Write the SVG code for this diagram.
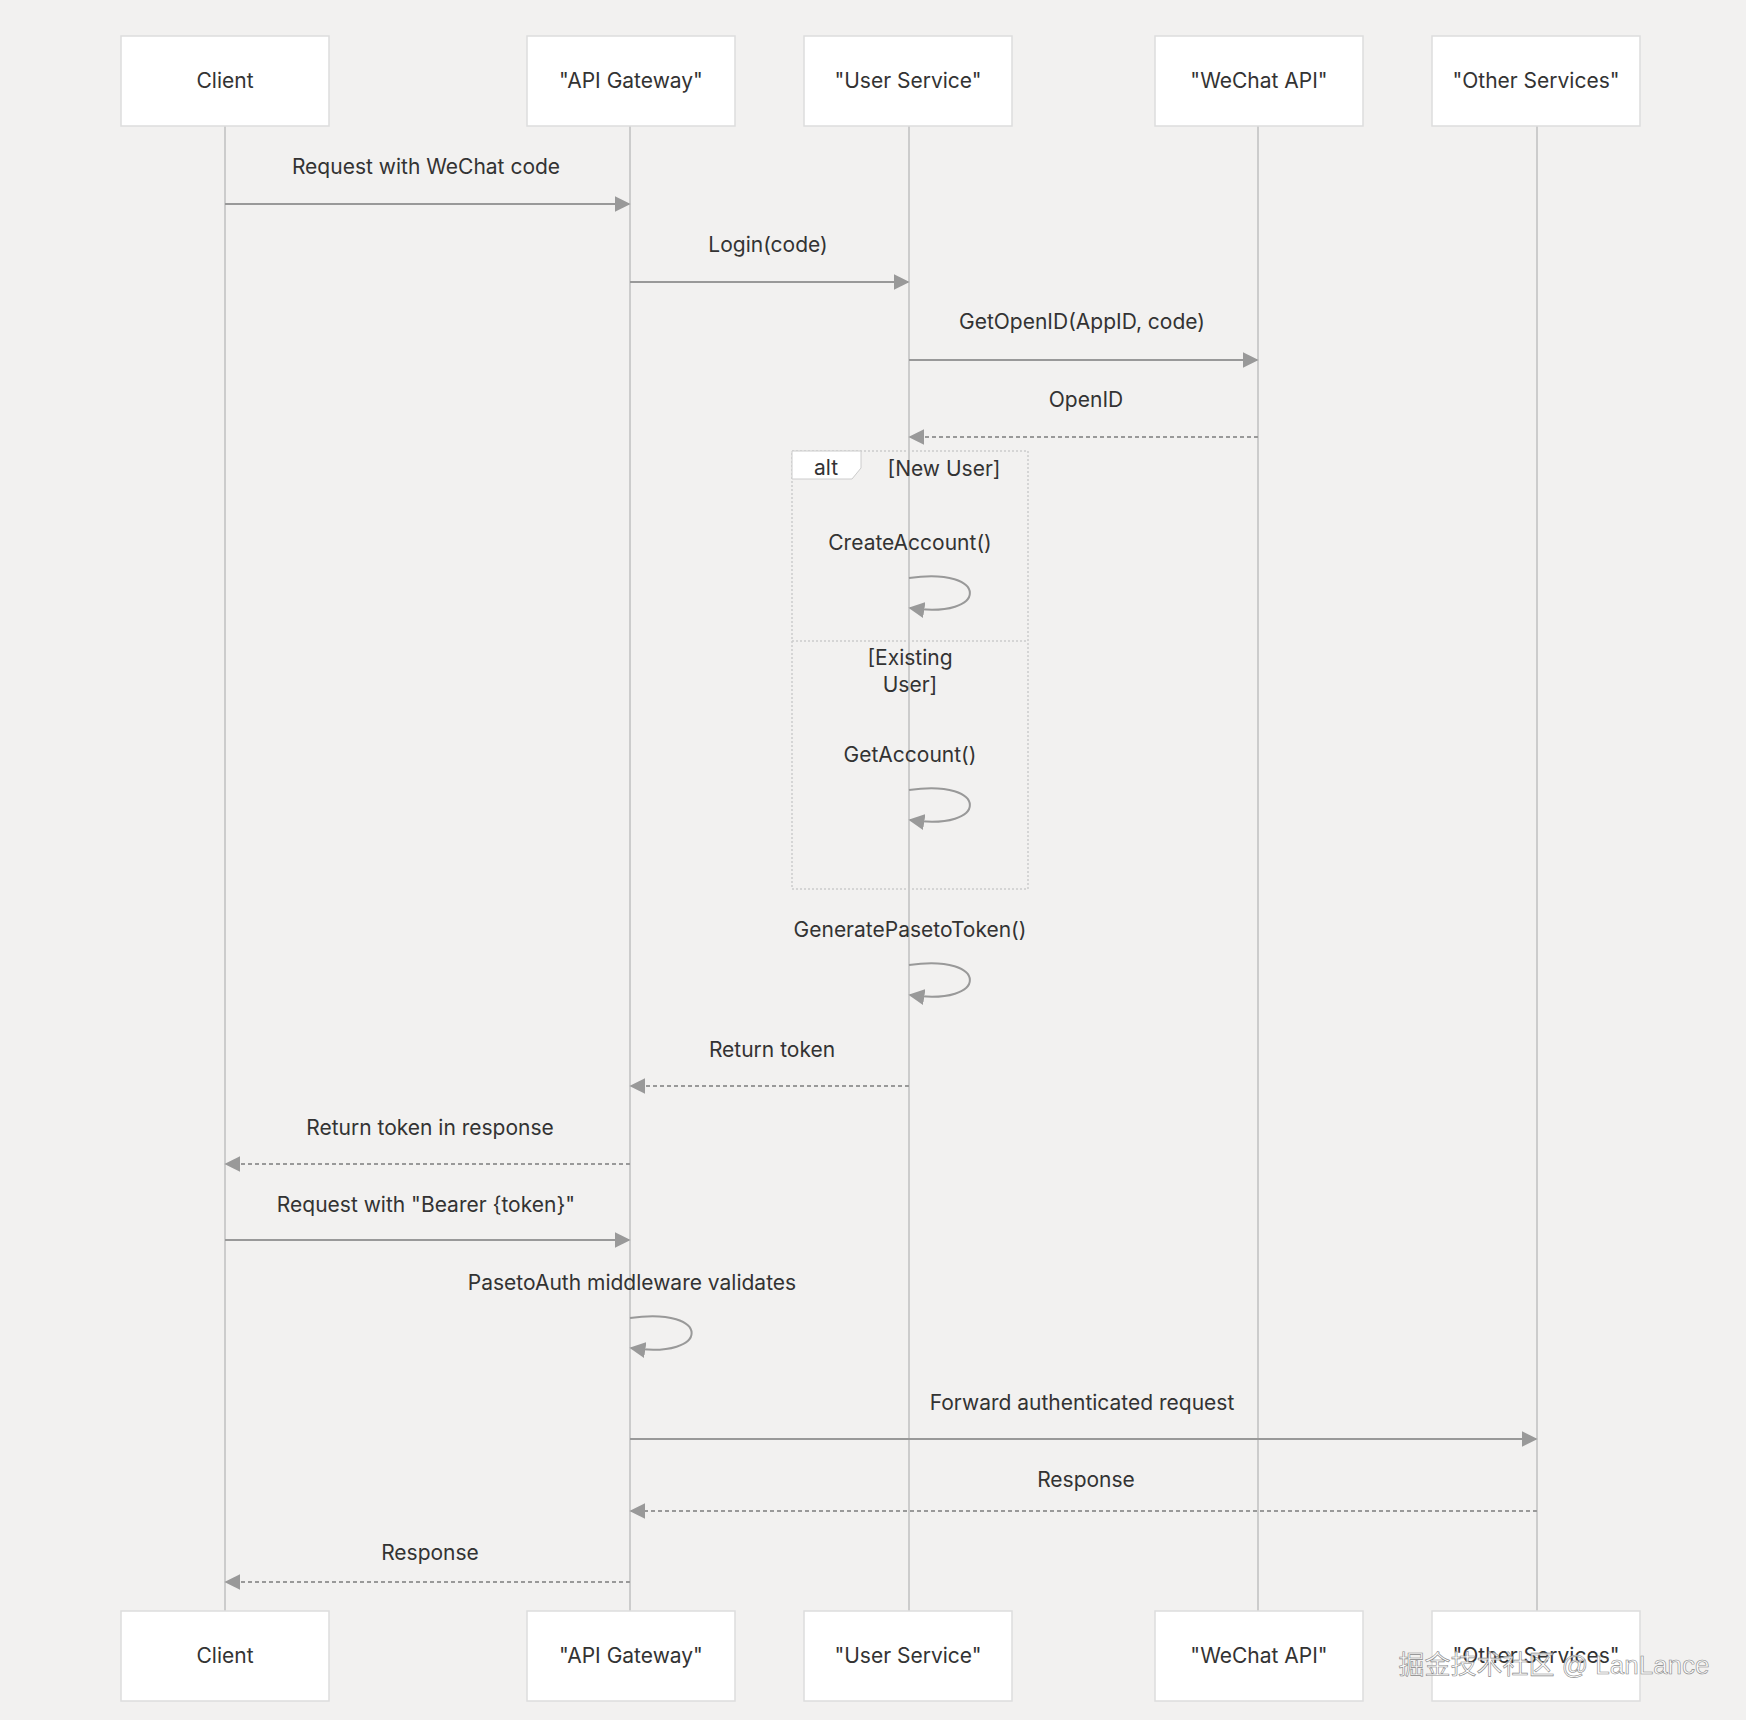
<svg xmlns="http://www.w3.org/2000/svg" width="1746" height="1720" viewBox="0 0 1746 1720">
<defs>
<style>
text{font-family:"Inter","Liberation Sans",sans-serif;fill:#333;font-size:21px;text-anchor:middle}
.box{fill:#fff;stroke:#ddd;stroke-width:1.5}
.life{stroke:#ccc;stroke-width:2}
.msg{stroke:#999;stroke-width:2;fill:none}
.dash{stroke-dasharray:4,3}
</style>
<marker id="ah" viewBox="0 0 10 10" refX="9" refY="5" markerWidth="8" markerHeight="8" orient="auto-start-reverse"><path d="M0,0L10,5L0,10z" fill="#999"/></marker>
</defs>
<rect width="1746" height="1720" fill="#f2f1f0"/>
<g id="lifelines">
<line class="life" x1="225" y1="126" x2="225" y2="1611"/>
<line class="life" x1="630" y1="126" x2="630" y2="1611"/>
<line class="life" x1="909" y1="126" x2="909" y2="1611"/>
<line class="life" x1="1258" y1="126" x2="1258" y2="1611"/>
<line class="life" x1="1537" y1="126" x2="1537" y2="1611"/>
</g>
<g id="alt">
<rect x="792" y="451" width="236" height="438" fill="none" stroke="#ccc" stroke-width="1.5" stroke-dasharray="2,2"/>
<path d="M792,451H861V468L852,479H792Z" fill="#fff" stroke="#ccc"/>
<text x="826" y="475">alt</text>
<text x="944" y="476">[New User]</text>
<line x1="792" y1="641" x2="1028" y2="641" stroke="#ccc" stroke-width="1.5" stroke-dasharray="2,2"/>
<text x="910" y="665">[Existing</text>
<text x="910" y="692">User]</text>
</g>
<g id="connectors">
<text x="426" y="174">Request with WeChat code</text>
<line class="msg" x1="225" y1="204" x2="629" y2="204" marker-end="url(#ah)"/>
<text x="768" y="252">Login(code)</text>
<line class="msg" x1="630" y1="282" x2="908" y2="282" marker-end="url(#ah)"/>
<text x="1082" y="329">GetOpenID(AppID, code)</text>
<line class="msg" x1="909" y1="360" x2="1257" y2="360" marker-end="url(#ah)"/>
<text x="1086" y="407">OpenID</text>
<line class="msg dash" x1="1258" y1="437" x2="910" y2="437" marker-end="url(#ah)"/>
<text x="910" y="550">CreateAccount()</text>
<path class="msg" d="M909,578C990,566 990,620 910,608" marker-end="url(#ah)"/>
<text x="910" y="762">GetAccount()</text>
<path class="msg" d="M909,790C990,778 990,832 910,820" marker-end="url(#ah)"/>
<text x="910" y="937">GeneratePasetoToken()</text>
<path class="msg" d="M909,965C990,953 990,1007 910,995" marker-end="url(#ah)"/>
<text x="772" y="1057">Return token</text>
<line class="msg dash" x1="909" y1="1086" x2="631" y2="1086" marker-end="url(#ah)"/>
<text x="430" y="1135">Return token in response</text>
<line class="msg dash" x1="630" y1="1164" x2="226" y2="1164" marker-end="url(#ah)"/>
<text x="426" y="1212">Request with "Bearer {token}"</text>
<line class="msg" x1="225" y1="1240" x2="629" y2="1240" marker-end="url(#ah)"/>
<text x="632" y="1290">PasetoAuth middleware validates</text>
<path class="msg" d="M630,1318C712,1306 712,1360 631,1348" marker-end="url(#ah)"/>
<text x="1082" y="1410">Forward authenticated request</text>
<line class="msg" x1="630" y1="1439" x2="1536" y2="1439" marker-end="url(#ah)"/>
<text x="1086" y="1487">Response</text>
<line class="msg dash" x1="1537" y1="1511" x2="631" y2="1511" marker-end="url(#ah)"/>
<text x="430" y="1560">Response</text>
<line class="msg dash" x1="630" y1="1582" x2="226" y2="1582" marker-end="url(#ah)"/>
</g>
<g id="client"><rect class="box" x="121" y="36" width="208" height="90"/><text x="225" y="88">Client</text></g>
<g id="gateway"><rect class="box" x="527" y="36" width="208" height="90"/><text x="631" y="88">"API Gateway"</text></g>
<g id="user"><rect class="box" x="804" y="36" width="208" height="90"/><text x="908" y="88">"User Service"</text></g>
<g id="wechat"><rect class="box" x="1155" y="36" width="208" height="90"/><text x="1259" y="88">"WeChat API"</text></g>
<g id="other"><rect class="box" x="1432" y="36" width="208" height="90"/><text x="1536" y="88">"Other Services"</text></g>
<g id="client-b"><rect class="box" x="121" y="1611" width="208" height="90"/><text x="225" y="1663">Client</text></g>
<g id="gateway-b"><rect class="box" x="527" y="1611" width="208" height="90"/><text x="631" y="1663">"API Gateway"</text></g>
<g id="user-b"><rect class="box" x="804" y="1611" width="208" height="90"/><text x="908" y="1663">"User Service"</text></g>
<g id="wechat-b"><rect class="box" x="1155" y="1611" width="208" height="90"/><text x="1259" y="1663">"WeChat API"</text></g>
<g id="other-b"><rect class="box" x="1432" y="1611" width="208" height="90"/><text x="1536" y="1663">"Other Services"</text></g>
<text x="1554" y="1674" style="font-family:'Liberation Sans','Noto Sans CJK SC',sans-serif;font-size:26px;fill:#ffffff;fill-opacity:0.75;stroke:#888;stroke-width:0.6">掘金技术社区 @ LanLance</text>
</svg>
